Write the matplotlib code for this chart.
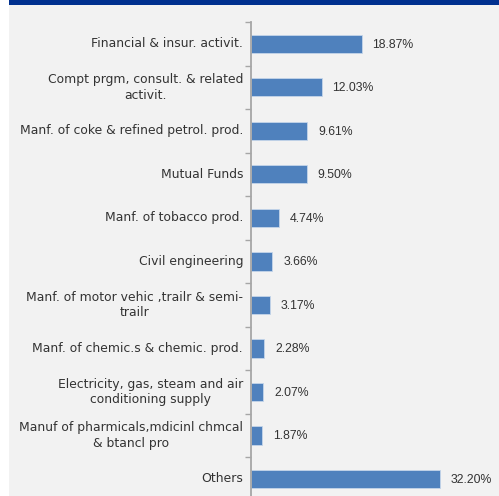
import matplotlib.pyplot as plt
from matplotlib.patches import Rectangle

# Sector shares (top to bottom as shown)
sectors = [
    'Financial & insur. activit.',
    'Compt prgm, consult. & related\nactivit.',
    'Manf. of coke & refined petrol. prod.',
    'Mutual Funds',
    'Manf. of tobacco prod.',
    'Civil engineering',
    'Manf. of motor vehic ,trailr & semi-\ntrailr',
    'Manf. of chemic.s & chemic. prod.',
    'Electricity, gas, steam and air\nconditioning supply',
    'Manuf of pharmicals,mdicinl chmcal\n& btancl pro',
    'Others',
]
shares = [18.87, 12.03, 9.61, 9.50, 4.74, 3.66, 3.17, 2.28, 2.07, 1.87, 32.20]

W, H = 499, 496
fig = plt.figure(figsize=(W / 100, H / 100), dpi=100, facecolor='white')

# light gray panel and dark blue header strip
fig.patches.append(Rectangle((9 / W, 0), 1, 1, transform=fig.transFigure,
                             facecolor='#f2f2f2', edgecolor='none', zorder=0))
fig.patches.append(Rectangle((9 / W, 1 - 5 / H), 1, 5 / H, transform=fig.transFigure,
                             facecolor='#00308f', edgecolor='none', zorder=1))

ax = fig.add_axes([251 / W, 1 - 500.75 / H, 248 / W, 478.75 / H])
ax.set_facecolor('none')
ax.set_zorder(3)

n = len(sectors)
pos = list(range(n))
ax.barh(pos, shares, height=0.42, color='#4f81bd', edgecolor='#c5d5ea', linewidth=0.6)
ax.set_ylim(n - 0.5, -0.5)
ax.set_xlim(0, 42.25)

for p, v in zip(pos, shares):
    ax.text(v + 1.85, p + 0.02, f'{v:.2f}%', va='center', ha='left', fontsize=8.8,
            family='Liberation Sans', color='#333333')

for p, s in zip(pos, sectors):
    ax.text(-8 / 5.87, p, s, va='center', ha='right', multialignment='center',
            fontsize=8.9, color='#333333', linespacing=1.25)

ax.set_yticks([i - 0.5 for i in range(n + 1)])
ax.set_yticklabels([])
ax.tick_params(axis='y', length=4, width=1, color='#a6a6a6')
ax.set_xticks([])
for side in ['top', 'right', 'bottom']:
    ax.spines[side].set_visible(False)
ax.spines['left'].set_color('#a6a6a6')
ax.spines['left'].set_linewidth(1.3)

fig.savefig('out.png', dpi=100)
